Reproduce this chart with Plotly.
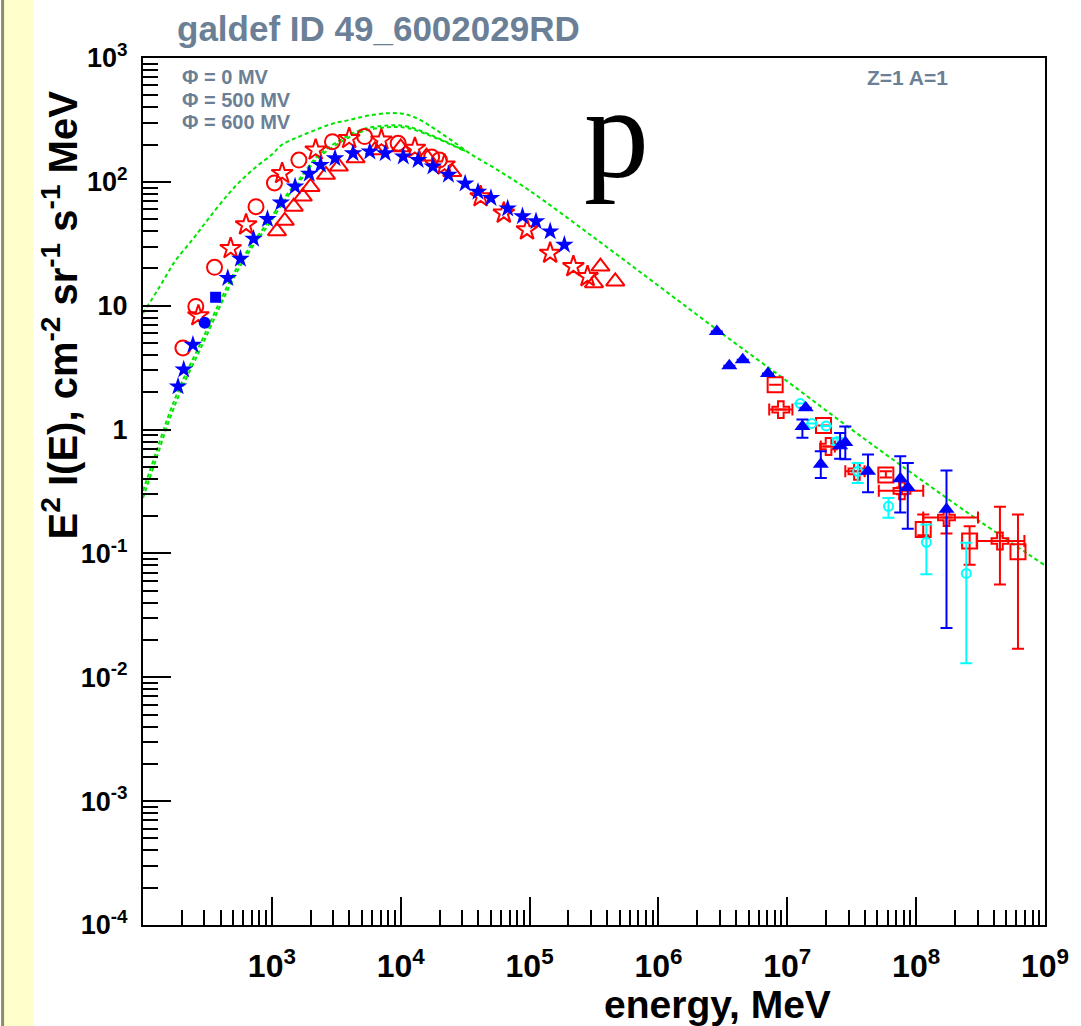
import plotly.graph_objects as go

# ---- model curves (green, dashed): E in MeV, E^2 I(E)
model_e_phi0 = [100, 135, 178, 245, 316, 442, 562, 753, 1000, 1202, 1585, 2188, 2951,
                3981, 5623, 7943, 10000, 11480, 14130, 18200, 25120, 35480, 56230,
                1e5, 3.162e5, 1e6, 3.162e6, 1e7, 3.162e7, 1e8, 3.162e8, 1e9]
model_phi0 = [8.7, 14.3, 23, 34.7, 49, 76, 100, 132, 166, 200, 229, 263, 295,
              316, 343, 358, 357, 347, 316, 269, 214, 166, 125,
              85, 35.5, 14.5, 5.9, 2.45, 1.0, 0.42, 0.18, 0.08]

# modulated spectra merge with the LIS above a few 1e4 MeV
model_e_mod = [100, 126, 158, 200, 288, 398, 525, 708, 955, 1259, 1622, 2239, 3311,
               5012, 7943, 11220, 17780, 31620]
model_phi500 = [0.32, 0.65, 1.3, 2.4, 5.3, 11, 19.5, 32, 49, 75, 104, 160, 214,
                265, 285, 280, 235, 178]
model_phi600 = [0.28, 0.57, 1.15, 2.15, 4.8, 10, 18, 30, 46, 71, 99, 153, 205,
                255, 276, 273, 231, 177]

# ---- low energy data
blue_star_e = [187, 207, 244, 455, 570, 721, 925, 1175, 1514, 1950, 2388, 3090, 4266,
               5754, 7586, 10470, 13650, 17780, 23440, 31620, 39810, 50120, 67610,
               88100, 112200, 144500, 186200]
blue_star_v = [2.23, 3.05, 4.84, 16.7, 23.9, 34.7, 50, 68, 91.7, 116, 137, 155, 170,
               176, 170, 160, 150, 133, 114, 97, 83, 74, 61,
               52.7, 48, 39.8, 31]
blue_circ_e = [301]
blue_circ_v = [7.3]
blue_sq_e = [366]
blue_sq_v = [11.7]

red_circ_e = [204, 257, 359, 753, 1047, 1622, 2951, 5248, 9550, 17380, 19950]
red_circ_v = [4.56, 9.87, 20.4, 63, 98, 150, 211, 232, 205, 159, 150]

red_star_e = [269, 479, 631, 1202, 2188, 3981, 7079, 12880, 21880, 41690, 63100,
              95500, 144500, 218800, 281800]
red_star_v = [8.3, 29, 45, 117, 181, 224, 218, 187, 137, 76, 56,
              41, 26.6, 20.7, 17.2]

red_tri_e = [1096, 1259, 1479, 1738, 1995, 2630, 3311, 4467, 6310, 10000, 15850, 25120,
             316200, 354800, 462400]
red_tri_v = [40, 48.5, 63, 76, 91, 114, 133, 155, 180, 190, 160, 120,
             15.2, 20.7, 15.7]

# ---- high energy data
blue_tri_e = [2.84e6, 3.55e6, 4.51e6, 7.08e6, 1.39e7, 1.31e7, 1.82e7, 2.57e7, 2.82e7,
              4.23e7, 7.53e7, 8.61e7, 1.72e8]
blue_tri_v = [6.2, 3.28, 3.67, 2.83, 1.50, 1.06, 0.525, 0.74, 0.785,
              0.46, 0.40, 0.34, 0.227]
blue_tri_up = [0, 0, 0, 0, 0, 0.145, 0.143, 0.2, 0.275, 0.17, 0.21, 0.197, 0.24]
blue_tri_dn = [0, 0, 0, 0, 0, 0.2, 0.118, 0.16, 0.21, 0.148, 0.186, 0.182, 0.202]

red_sq_e = [8.05e6, 1.91e7, 5.82e7, 1.135e8, 2.6e8, 6.17e8]
red_sq_v = [2.3, 1.08, 0.43, 0.156, 0.126, 0.103]
red_sq_up = [0, 0, 0.03, 0.05, 0.04, 0.103]
red_sq_dn = [0, 0, 0.02, 0.016, 0.045, 0.086]

red_cross_e = [8.91e6, 2.09e7, 3.47e7, 7.76e7, 1.72e8, 4.47e8]
red_cross_v = [1.45, 0.73, 0.46, 0.32, 0.195, 0.126]
red_cross_xp = [2.05e6, 2.5e6, 5.1e6, 3.59e7, 1.3e8, 2.45e8]
red_cross_xm = [1.67e6, 2.7e6, 6.5e6, 2.63e7, 5.85e7, 1.52e8]
red_cross_up = [0, 0, 0, 0.02, 0, 0.112]
red_cross_dn = [0, 0, 0, 0.02, 0.05, 0.07]

cyan_e = [1.26e7, 1.55e7, 2.0e7, 2.45e7, 3.52e7, 6.1e7, 1.2e8, 2.45e8]
cyan_v = [1.62, 1.12, 1.07, 0.80, 0.46, 0.24, 0.123, 0.069]
cyan_up = [0, 0, 0, 0.05, 0.077, 0.04, 0.048, 0.053]
cyan_dn = [0, 0, 0, 0.05, 0.09, 0.046, 0.055, 0.056]

# tick labels
x_ticks = [1e3, 1e4, 1e5, 1e6, 1e7, 1e8, 1e9]
x_ticktext = ["10<sup>3</sup>", "10<sup>4</sup>", "10<sup>5</sup>", "10<sup>6</sup>",
              "10<sup>7</sup>", "10<sup>8</sup>", "10<sup>9</sup>"]
y_ticks = [1e-4, 1e-3, 1e-2, 1e-1, 1, 10, 100, 1000]
y_ticktext = ["10<sup>-4</sup>", "10<sup>-3</sup>", "10<sup>-2</sup>", "10<sup>-1</sup>",
              "1", "10", "10<sup>2</sup>", "10<sup>3</sup>"]

RED = "#FF0000"
BLUE = "#0000FF"
CYAN = "#00FFFF"
GREEN = "#00E600"
GREY = "#6B8096"
FONT = "Liberation Sans, Arial, sans-serif"

fig = go.Figure()

# model curves
for xs, ys in [(model_e_phi0, model_phi0), (model_e_mod, model_phi500), (model_e_mod, model_phi600)]:
    fig.add_trace(go.Scatter(x=xs, y=ys, mode="lines", line_shape="spline",
                             line=dict(color=GREEN, width=2, dash="4px,3px")))


def err(up, dn, color):
    return dict(type="data", symmetric=False, array=up, arrayminus=dn,
                color=color, thickness=2, width=6)


fig.add_trace(go.Scatter(x=red_circ_e, y=red_circ_v, mode="markers",
                         marker=dict(symbol="circle-open", size=15, color=RED, line=dict(width=2))))
fig.add_trace(go.Scatter(x=red_star_e, y=red_star_v, mode="markers",
                         marker=dict(symbol="star-open", size=16, color=RED, line=dict(width=2))))
fig.add_trace(go.Scatter(x=red_tri_e, y=red_tri_v, mode="markers",
                         marker=dict(symbol="triangle-up-open", size=16, color=RED, line=dict(width=2))))

fig.add_trace(go.Scatter(x=red_sq_e, y=red_sq_v, mode="markers",
                         error_y=err(red_sq_up, red_sq_dn, RED),
                         marker=dict(symbol="square-open", size=15, color=RED, line=dict(width=2))))
fig.add_trace(go.Scatter(x=red_cross_e, y=red_cross_v, mode="markers",
                         error_y=err(red_cross_up, red_cross_dn, RED),
                         error_x=err(red_cross_xp, red_cross_xm, RED),
                         marker=dict(symbol="cross-open", size=14, color=RED, line=dict(width=2))))
fig.add_trace(go.Scatter(x=cyan_e, y=cyan_v, mode="markers",
                         error_y=err(cyan_up, cyan_dn, CYAN),
                         marker=dict(symbol="circle-open", size=9, color=CYAN, line=dict(width=2))))

fig.add_trace(go.Scatter(x=blue_star_e, y=blue_star_v, mode="markers",
                         marker=dict(symbol="star", size=14, color=BLUE)))
fig.add_trace(go.Scatter(x=blue_circ_e, y=blue_circ_v, mode="markers",
                         marker=dict(symbol="circle", size=12, color=BLUE)))
fig.add_trace(go.Scatter(x=blue_sq_e, y=blue_sq_v, mode="markers",
                         marker=dict(symbol="square", size=11, color=BLUE)))
fig.add_trace(go.Scatter(x=blue_tri_e, y=blue_tri_v, mode="markers",
                         error_y=err(blue_tri_up, blue_tri_dn, BLUE),
                         marker=dict(symbol="triangle-up", size=14, color=BLUE)))

x_minor = [m * 10 ** k for k in range(2, 9) for m in range(2, 10)]
y_minor = [m * 10.0 ** k for k in range(-4, 3) for m in range(2, 10)]

fig.update_xaxes(type="log", range=[2, 9], tickmode="array", tickvals=x_ticks, ticktext=x_ticktext,
                 ticks="inside", ticklen=28, tickwidth=1.5, tickcolor="black",
                 minor=dict(tickmode="array", tickvals=x_minor, ticks="inside", ticklen=15,
                            tickwidth=1.5, tickcolor="black", showgrid=False),
                 showgrid=False, zeroline=False, showline=True, linecolor="black", linewidth=2,
                 mirror=True, ticklabelstandoff=12,
                 tickfont=dict(family=FONT, size=32, color="black", weight="bold"))
fig.update_yaxes(type="log", range=[-4, 3], tickmode="array", tickvals=y_ticks, ticktext=y_ticktext,
                 ticks="inside", ticklen=28, tickwidth=1.5, tickcolor="black",
                 minor=dict(tickmode="array", tickvals=y_minor, ticks="inside", ticklen=15,
                            tickwidth=1.5, tickcolor="black", showgrid=False),
                 showgrid=False, zeroline=False, showline=True, linecolor="black", linewidth=2,
                 mirror=True, ticklabelstandoff=8,
                 tickfont=dict(family=FONT, size=27, color="black", weight="bold"))

# page decorations: pale yellow strip at the left
fig.add_shape(type="rect", xref="paper", yref="paper", x0=-0.1573, x1=-0.1210, y0=-0.1165, y1=1.0669,
              fillcolor="#FFFFCC", line=dict(width=0), layer="below")
fig.add_shape(type="rect", xref="paper", yref="paper", x0=-0.1573, x1=-0.1540, y0=-0.1165, y1=1.0669,
              fillcolor="#8C8C6C", line=dict(width=0), layer="below")

annots = [
    dict(text="galdef ID 49_6002029RD", x=0.035, y=1.0346, xanchor="left", yanchor="middle",
         font=dict(family=FONT, size=35, color=GREY, weight="bold")),
    dict(text="Φ = 0 MV", x=0.041, y=0.978, xanchor="left", yanchor="middle",
         font=dict(family=FONT, size=20, color=GREY, weight="bold")),
    dict(text="Φ = 500 MV", x=0.041, y=0.951, xanchor="left", yanchor="middle",
         font=dict(family=FONT, size=20, color=GREY, weight="bold")),
    dict(text="Φ = 600 MV", x=0.041, y=0.926, xanchor="left", yanchor="middle",
         font=dict(family=FONT, size=20, color=GREY, weight="bold")),
    dict(text="Z=1 A=1", x=0.80, y=0.978, xanchor="left", yanchor="middle",
         font=dict(family=FONT, size=21, color=GREY, weight="bold")),
    dict(text="p", x=0.525, y=0.915, xanchor="center", yanchor="middle",
         font=dict(family="Liberation Serif, Times New Roman, serif", size=130, color="black")),
    dict(text="E<sup>2</sup> I(E), cm<sup>-2</sup> sr<sup>-1</sup> s<sup>-1</sup> MeV",
         x=-0.0925, y=0.965, xanchor="center", yanchor="top", textangle=-90,
         font=dict(family=FONT, size=40, color="black", weight="bold")),
    dict(text="energy, MeV", x=0.637, y=-0.092, xanchor="center", yanchor="middle",
         font=dict(family=FONT, size=39, color="black", weight="bold")),
]
for a in annots:
    fig.add_annotation(xref="paper", yref="paper", showarrow=False, **a)

fig.update_layout(width=1081, height=1026, showlegend=False,
                  margin=dict(l=143, r=29, t=58, b=101),
                  paper_bgcolor="white", plot_bgcolor="white")

fig.write_html("out.html", config={"displayModeBar": False},
               post_script="document.body.style.margin='0px';")
